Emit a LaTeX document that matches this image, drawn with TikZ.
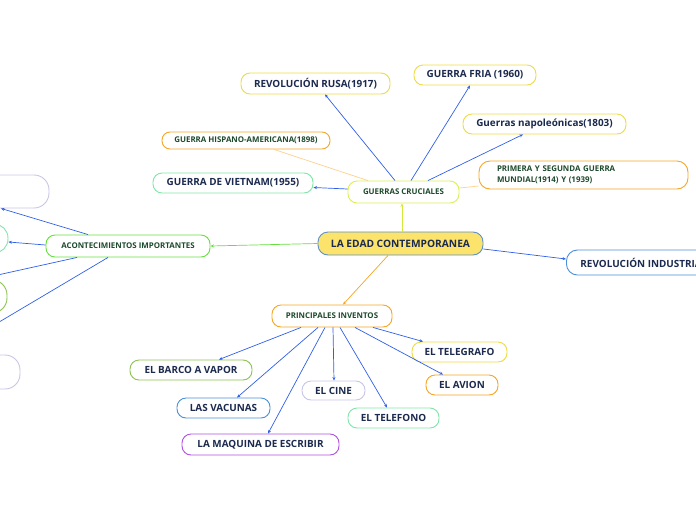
\documentclass[tikz,border=0pt]{standalone}
\usepackage{fontspec}
\setmainfont{Open Sans}
\usetikzlibrary{arrows.meta}
\definecolor{navy}{HTML}{1B2A4E}
\definecolor{dgreen}{HTML}{1D4A2C}
\definecolor{lblue}{HTML}{2F5FE8}
\definecolor{cfill}{HTML}{FCE36C}
\definecolor{cborder}{HTML}{5C8FCF}
\definecolor{yel}{HTML}{EEDC45}
\definecolor{ygreen}{HTML}{DDEF55}
\definecolor{yline}{HTML}{D2E83A}
\definecolor{orng}{HTML}{F5A623}
\definecolor{lorng}{HTML}{FFCF8C}
\definecolor{bgreen}{HTML}{66E040}
\definecolor{mint}{HTML}{80E6A8}
\definecolor{olive}{HTML}{8DC350}
\definecolor{lav}{HTML}{C8C5E6}
\definecolor{purp}{HTML}{B050E0}
\definecolor{bblue}{HTML}{4A90D9}
\tikzset{
  box/.style={draw, fill=white, rounded corners=9pt, line width=0.9pt, inner sep=0pt,
    text=navy, font=\bfseries\fontsize{9.9}{11}\selectfont},
  sbox/.style={box, text=dgreen, font=\bfseries\fontsize{7.9}{11.5}\selectfont},
  conn/.style={draw=lblue, line width=0.7pt, -{Stealth[length=3.5pt,width=3pt]}},
  pale/.style={draw=lorng, line width=0.7pt}
}
\begin{document}
\begin{tikzpicture}[x=1pt,y=-1pt]
\useasboundingbox (0,0) rectangle (696,520);
\clip (0,0) rectangle (696,520);
% nodes
\node[box, draw=cborder, fill=cfill, minimum width=165pt, minimum height=23pt, rounded corners=10pt, font=\bfseries\fontsize{10.2}{12}\selectfont] (c) at (400.5,243.5) {LA EDAD CONTEMPORANEA};
\node[sbox, draw=ygreen, minimum width=111pt, minimum height=22pt] (gc) at (403.5,192) {GUERRAS CRUCIALES};
\node[box, draw=yel, minimum width=149pt, minimum height=21pt] (rusa) at (315.5,83.5) {REVOLUCIÓN RUSA(1917)};
\node[box, draw=yel, minimum width=122pt, minimum height=20pt] (fria) at (475,75) {GUERRA FRIA (1960)};
\node[box, draw=yel, minimum width=163pt, minimum height=20pt] (napo) at (544.5,124) {Guerras napoleónicas(1803)};
\node[sbox, draw=orng, text width=173pt, inner xsep=18pt, minimum height=28pt, align=left, rounded corners=11pt, font=\bfseries\fontsize{7.9}{11}\selectfont] (prim) at (583.5,175) {PRIMERA Y SEGUNDA GUERRA\\MUNDIAL(1914) Y (1939)};
\node[sbox, draw=orng, minimum width=168pt, minimum height=17pt, rounded corners=8pt] (hisp) at (246,140.5) {GUERRA HISPANO-AMERICANA(1898)};
\node[box, draw=mint, minimum width=160pt, minimum height=20pt] (viet) at (233,183) {GUERRA DE VIETNAM(1955)};
\node[sbox, draw=bgreen, minimum width=164pt, minimum height=22pt] (acon) at (128,246) {ACONTECIMIENTOS IMPORTANTES};
\node[box, draw=lav, minimum width=120pt, minimum height=33pt, rounded corners=15pt] (l1) at (-11,191.5) {};
\node[box, draw=mint, minimum width=100pt, minimum height=29pt, rounded corners=14pt] (l2) at (-42,238.5) {};
\node[box, draw=olive, minimum width=120pt, minimum height=33pt, rounded corners=15pt] (l3) at (-53,296.5) {};
\node[box, draw=lav, minimum width=120pt, minimum height=34pt, rounded corners=15pt] (l4) at (-40,372) {};
\node[box, draw=bblue, anchor=west, inner xsep=14pt, minimum height=25pt, rounded corners=11pt] (rind) at (566,262.5) {REVOLUCIÓN INDUSTRIAL};
\node[sbox, draw=orng, minimum width=120pt, minimum height=22pt] (inv) at (332,316) {PRINCIPALES INVENTOS};
\node[box, draw=olive, minimum width=122pt, minimum height=20pt] (barco) at (191,370) {EL BARCO A VAPOR};
\node[box, draw=bblue, minimum width=93pt, minimum height=20pt] (vac) at (223.5,408) {LAS VACUNAS};
\node[box, draw=purp, minimum width=157pt, minimum height=21pt] (maq) at (260.5,444.5) {LA MAQUINA DE ESCRIBIR};
\node[box, draw=lav, minimum width=63pt, minimum height=19pt] (cine) at (333.5,390.5) {EL CINE};
\node[box, draw=mint, minimum width=91pt, minimum height=20pt] (tel) at (393.5,418) {EL TELEFONO};
\node[box, draw=yel, minimum width=95pt, minimum height=20pt] (telg) at (459.5,352) {EL TELEGRAFO};
\node[box, draw=orng, minimum width=72pt, minimum height=20pt] (avion) at (462,385) {EL AVION};
% connectors from center
\draw[conn, draw=yline] ([xshift=1.5pt]c.north) -- ([xshift=-1.5pt]gc.south);
\draw[conn, draw=bgreen] (c.west) -- (acon.east);
\draw[conn, draw=orng] ([xshift=-12.5pt]c.south) -- ([xshift=11pt]inv.north);
\draw[conn] ([yshift=-5.5pt]c.east) -- ([yshift=3.5pt]rind.west);
% guerras cruciales
\draw[conn] ([xshift=-8.5pt]gc.north) -- ([xshift=9.5pt]rusa.south);
\draw[conn] ([xshift=7.5pt]gc.north) -- ([xshift=-5pt]fria.south);
\draw[conn] ([xshift=24.5pt]gc.north) -- ([xshift=-21.5pt]napo.south);
\draw[conn] ([yshift=3pt]gc.west) -- ([yshift=-4.5pt]viet.east);
\draw[pale] ([xshift=-35.5pt]gc.north) -- ([xshift=28pt]hisp.south);
\draw[pale] ([yshift=4pt]gc.east) -- ([yshift=-11pt]prim.west);
% acontecimientos
\draw[conn] ([xshift=-40pt]acon.north) -- ([xshift=12pt]l1.south);
\draw[conn] ([yshift=1pt]acon.west) -- ([yshift=-3.5pt]l2.east);
\draw[conn] ([xshift=-51pt]acon.south) -- ([xshift=30pt]l3.north);
\draw[conn] ([xshift=-20pt]acon.south) -- ([xshift=-15.7pt]l4.north);
% inventos
\draw[conn] ([xshift=-31pt]inv.south) -- ([xshift=28pt]barco.north);
\draw[conn] ([xshift=-14pt]inv.south) -- ([xshift=13.5pt]vac.north);
\draw[conn] ([xshift=-7pt]inv.south) -- ([xshift=7.5pt]maq.north);
\draw[conn] ([xshift=1pt]inv.south) -- ([xshift=0.5pt]cine.north);
\draw[conn] ([xshift=8pt]inv.south) -- ([xshift=-6.5pt]tel.north);
\draw[conn] ([xshift=23pt]inv.south) -- ([xshift=-19pt]avion.north);
\draw[conn] ([xshift=41pt]inv.south) -- ([xshift=-36.5pt]telg.north);
\end{tikzpicture}
\end{document}
